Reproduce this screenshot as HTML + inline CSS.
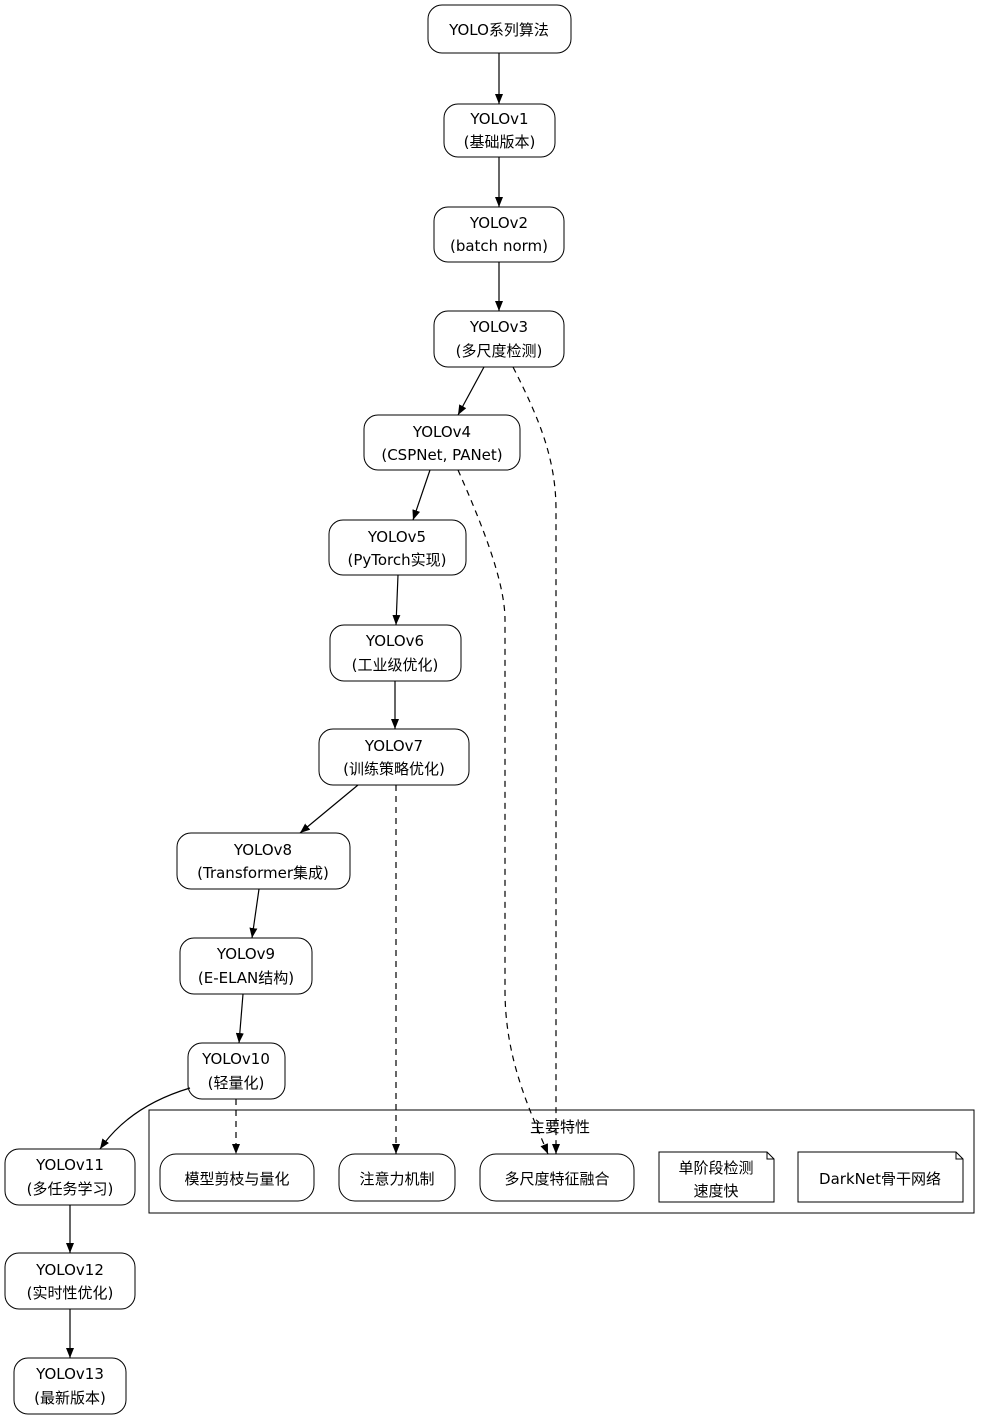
<!DOCTYPE html>
<html><head><meta charset="utf-8"><style>
body{margin:0;background:#fff}
svg text{font-family:"DejaVu Sans","Noto Sans CJK SC",sans-serif;font-size:15px;fill:#000;text-anchor:middle}
</style></head><body>
<svg width="991" height="1420" viewBox="0 0 991 1420" xmlns="http://www.w3.org/2000/svg">
<defs><marker id="a" markerWidth="10" markerHeight="8" refX="10" refY="4" orient="auto" markerUnits="userSpaceOnUse"><path d="M0,0 L10,4 L0,8 z" fill="#000"/></marker></defs>
<g fill="#fff" stroke="#000" stroke-width="1">
<rect x="428" y="5" width="143" height="48" rx="14"/>
<rect x="444" y="104" width="111" height="53" rx="14"/>
<rect x="434" y="207" width="130" height="55" rx="14"/>
<rect x="434" y="311" width="130" height="56" rx="14"/>
<rect x="364" y="415" width="156" height="55" rx="14"/>
<rect x="329" y="520" width="137" height="55" rx="14"/>
<rect x="330" y="625" width="131" height="56" rx="14"/>
<rect x="319" y="729" width="150" height="56" rx="14"/>
<rect x="177" y="833" width="173" height="56" rx="14"/>
<rect x="180" y="938" width="132" height="56" rx="14"/>
<rect x="188" y="1043" width="97" height="56" rx="14"/>
<rect x="5" y="1149" width="130" height="56" rx="14"/>
<rect x="5" y="1253" width="130" height="56" rx="14"/>
<rect x="14" y="1358" width="112" height="56" rx="14"/>
<rect x="149" y="1110" width="825" height="103"/>
<rect x="160" y="1154" width="154" height="47" rx="16"/>
<rect x="339" y="1154" width="116" height="47" rx="16"/>
<rect x="480" y="1154" width="154" height="47" rx="16"/>
<path d="M659,1152 H767 L774,1159 V1202 H659 Z M767,1152 V1159 H774"/>
<path d="M798,1152 H956 L963,1159 V1202 H798 Z M956,1152 V1159 H963"/>
</g>
<g stroke="#000" stroke-width="1.2" fill="none">
<path d="M499,53 V104" marker-end="url(#a)"/>
<path d="M499,157 V207" marker-end="url(#a)"/>
<path d="M499,262 V311" marker-end="url(#a)"/>
<path d="M484,367 L458,415" marker-end="url(#a)"/>
<path d="M430,470 L413,520" marker-end="url(#a)"/>
<path d="M398,575 L396,625" marker-end="url(#a)"/>
<path d="M395,681 V729" marker-end="url(#a)"/>
<path d="M358,785 L300,833" marker-end="url(#a)"/>
<path d="M259,889 L252,938" marker-end="url(#a)"/>
<path d="M243,994 L239,1043" marker-end="url(#a)"/>
<path d="M190,1088 C150,1100 120,1120 100,1149" marker-end="url(#a)"/>
<path d="M70,1205 V1253" marker-end="url(#a)"/>
<path d="M70,1309 V1358" marker-end="url(#a)"/>
<g stroke-dasharray="6,5">
<path d="M236,1099 V1154" marker-end="url(#a)"/>
<path d="M396,785 V1154" marker-end="url(#a)"/>
<path d="M513,367 C540,420 556,460 556,510 V1154" marker-end="url(#a)"/>
<path d="M458,470 C480,520 505,580 505,620 V990 C505,1060 530,1110 548,1154" marker-end="url(#a)"/>
</g>
</g>
<text x="499" y="35">YOLO系列算法</text>
<text x="499.5" y="124">YOLOv1</text><text x="499.5" y="147">(基础版本)</text>
<text x="499" y="228">YOLOv2</text><text x="499" y="251">(batch norm)</text>
<text x="499" y="332">YOLOv3</text><text x="499" y="356">(多尺度检测)</text>
<text x="442" y="437">YOLOv4</text><text x="442" y="460">(CSPNet, PANet)</text>
<text x="397" y="542">YOLOv5</text><text x="397" y="565">(PyTorch实现)</text>
<text x="395" y="646">YOLOv6</text><text x="395" y="670">(工业级优化)</text>
<text x="394" y="751">YOLOv7</text><text x="394" y="774">(训练策略优化)</text>
<text x="263" y="855">YOLOv8</text><text x="263" y="878">(Transformer集成)</text>
<text x="246" y="959">YOLOv9</text><text x="246" y="983">(E-ELAN结构)</text>
<text x="236" y="1064">YOLOv10</text><text x="236" y="1088">(轻量化)</text>
<text x="70" y="1170">YOLOv11</text><text x="70" y="1194">(多任务学习)</text>
<text x="70" y="1275">YOLOv12</text><text x="70" y="1298">(实时性优化)</text>
<text x="70" y="1379">YOLOv13</text><text x="70" y="1403">(最新版本)</text>
<text x="560" y="1132">主要特性</text>
<text x="237" y="1184">模型剪枝与量化</text>
<text x="397" y="1184">注意力机制</text>
<text x="557" y="1184">多尺度特征融合</text>
<text x="716" y="1173">单阶段检测</text><text x="716" y="1196">速度快</text>
<text x="880" y="1184">DarkNet骨干网络</text>
</svg>
</body></html>
